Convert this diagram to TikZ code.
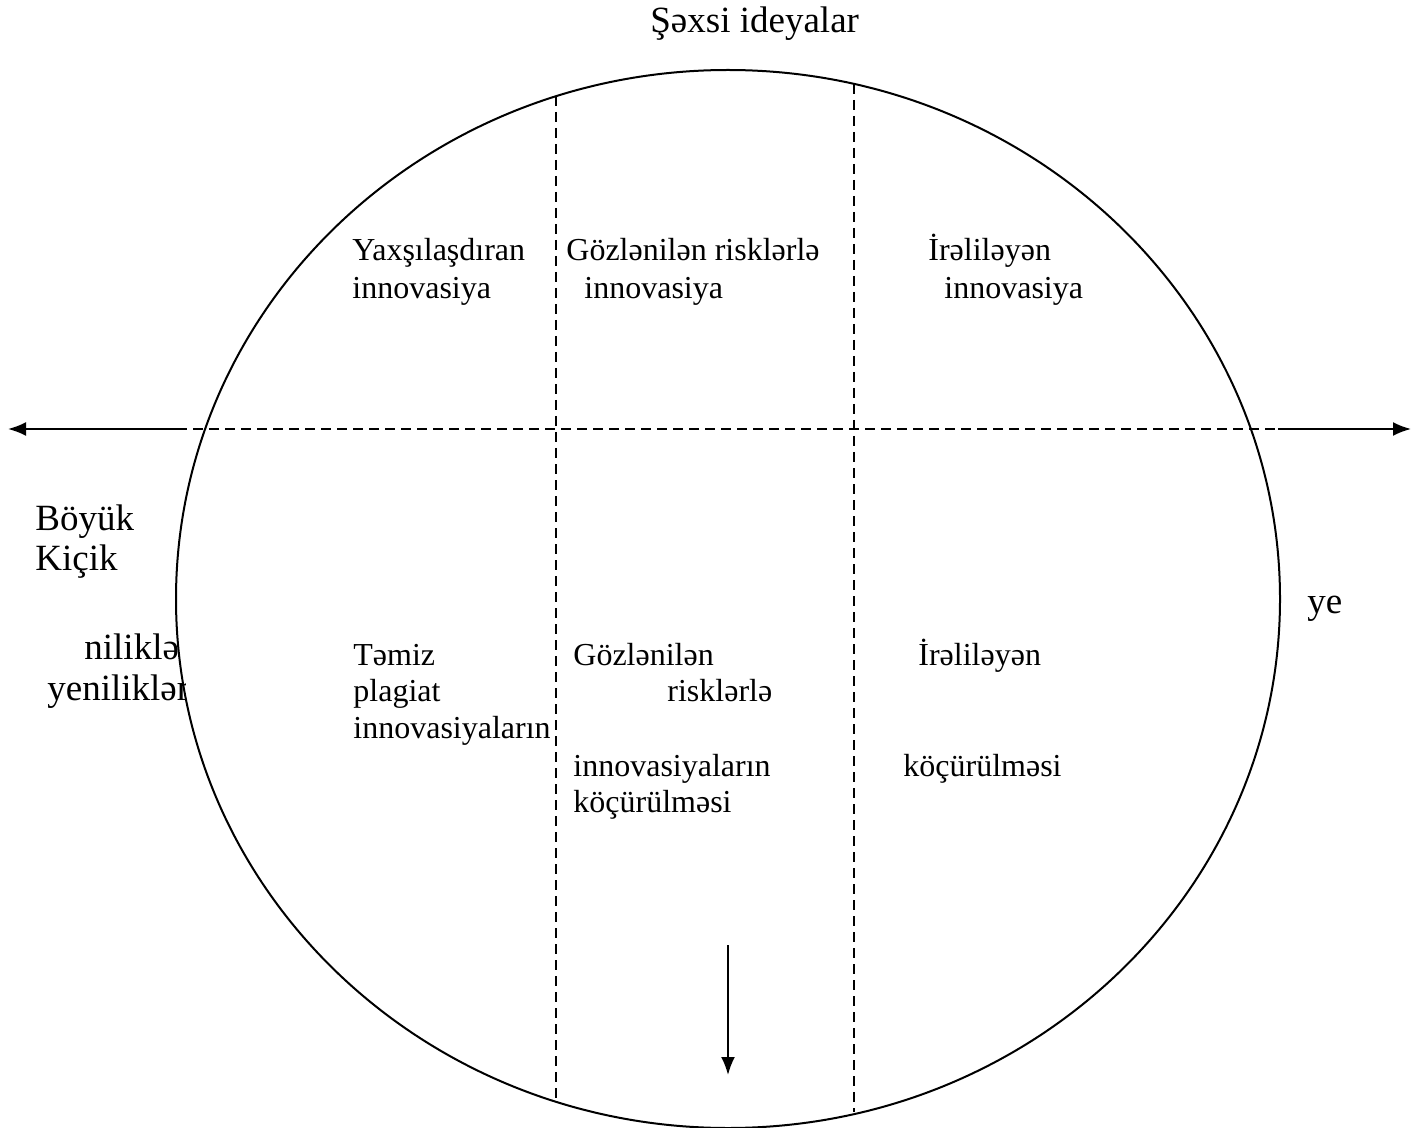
\documentclass[tikz,border=0pt]{standalone}
\usepackage{fontspec}
\setmainfont{Liberation Serif}
\usetikzlibrary{arrows.meta}
\begin{document}
\begin{tikzpicture}[x=0.5pt,y=-0.5pt,
  lbl/.style={anchor=base west,inner sep=0pt,font=\fontsize{16}{19}\selectfont},
  biglbl/.style={anchor=base west,inner sep=0pt,font=\fontsize{18.5}{22}\selectfont},
  divider/.style={line width=0.75pt,dash pattern=on 5pt off 3pt},
  axis/.style={line width=1pt,-{Latex[length=9pt,width=7pt]}}]
\useasboundingbox (0,0) rectangle (1413,1128);

% outer ellipse
\draw[line width=1pt] (728,599) ellipse [x radius=276pt, y radius=264.5pt];

% horizontal axis
\coordinate (hl) at (177,429);
\coordinate (hr) at (1278,429);
\coordinate (hlt) at (8,429);
\coordinate (hrt) at (1411,429);
\draw[divider] (hl) -- (hr);
\draw[axis] (hl) -- (hlt);
\draw[axis] (hr) -- (hrt);

% vertical dividers
\coordinate (v1t) at (556,96);
\coordinate (v1b) at (556,1100);
\coordinate (v2t) at (854,84);
\coordinate (v2b) at (854,1112);
\draw[divider] (v1t) -- (v1b);
\draw[divider] (v2t) -- (v2b);

% downward arrow
\coordinate (da) at (728,945);
\coordinate (db) at (728,1075);
\draw[axis] (da) -- (db);

% title
\node[biglbl] (title) at (650,33) {Şəxsi ideyalar};

% upper row
\node[lbl] (u1a) at (352,261) {Yaxşılaşdıran};
\node[lbl] (u1b) at (352,299) {innovasiya};
\node[lbl] (u2a) at (566,261) {Gözlənilən risklərlə};
\node[lbl] (u2b) at (584,299) {innovasiya};
\node[lbl] (u3a) at (928,261) {İrəliləyən};
\node[lbl] (u3b) at (944,299) {innovasiya};

% lower row
\node[lbl] (l1a) at (353,665) {Təmiz};
\node[lbl] (l1b) at (353,701) {plagiat};
\node[lbl] (l1c) at (353,738) {innovasiyaların};
\node[lbl] (l2a) at (573,665) {Gözlənilən};
\node[lbl] (l2b) at (667,701) {risklərlə};
\node[lbl] (l2c) at (573,776) {innovasiyaların};
\node[lbl] (l2d) at (573,812) {köçürülməsi};
\node[lbl] (l3a) at (918,665) {İrəliləyən};
\node[lbl] (l3b) at (903,776) {köçürülməsi};

% side labels
\node[biglbl] (s1) at (35,530) {Böyük};
\node[biglbl] (s2) at (35,570) {Kiçik};
\begin{scope}
  \clip (0,600) rectangle (185,740);
  \node[biglbl] (s3) at (84,659) {niliklə};
  \node[biglbl] (s4) at (47,700) {yeniliklər};
\end{scope}
\node[biglbl] (s5) at (1307,613) {ye};
\end{tikzpicture}
\end{document}
